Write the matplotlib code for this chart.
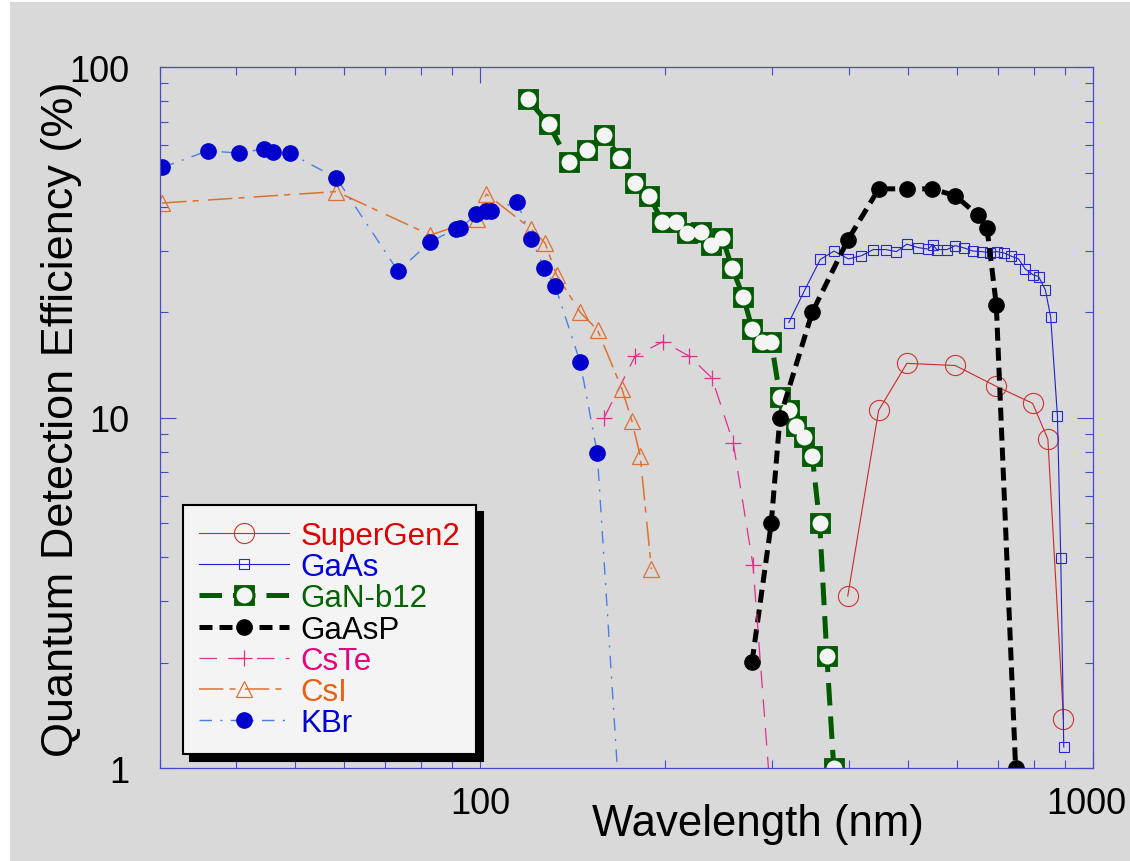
import numpy as np
import matplotlib
matplotlib.use("Agg")
import matplotlib.pyplot as plt
from matplotlib.patches import Rectangle
from matplotlib.ticker import FixedLocator, FixedFormatter, NullFormatter, LogLocator

plt.rcParams['font.family'] = ['Liberation Sans', 'DejaVu Sans']

# ---- data (wavelength nm, QE %) ----
sg2_wl = [398, 447, 497, 596, 695, 797, 844, 895]
sg2_qe = [3.1, 10.5, 14.3, 14.1, 12.3, 11.0, 8.7, 1.38]

gaas_wl = [319, 338, 359, 378, 399, 419, 438, 459, 478, 497, 518, 538, 548, 556,
           578, 596, 617, 637, 659, 678, 697, 717, 736, 756, 775, 798, 815, 836,
           853, 875, 886, 896]
gaas_qe = [18.7, 23.0, 28.3, 29.9, 28.4, 29.0, 30.2, 30.2, 29.8, 31.3, 30.6, 30.3, 31.2, 30.2,
           30.2, 31.0, 30.5, 29.9, 29.8, 29.6, 29.8, 29.5, 28.9, 28.4, 26.6, 25.6, 25.3, 23.2,
           19.4, 10.1, 3.97, 1.15]

gan_wl = [119.6, 129.4, 139.5, 149.2, 159.4, 169.3, 179.1, 188.8, 198.4, 208.7, 217.9,
          229.2, 238.5, 248.6, 258.0, 268.9, 278.1, 288.1, 298.6, 308.5, 319.2, 327.3,
          337.6, 348.3, 358.2, 368, 377.7]
gan_qe = [81.2, 68.9, 53.8, 58.1, 64.1, 55.0, 46.7, 42.9, 36.3, 36.3, 33.6,
          34.0, 31.1, 32.5, 26.7, 22.1, 17.9, 16.5, 16.5, 11.5, 10.5, 9.5,
          8.8, 7.8, 5.0, 2.09, 1.0]

gaasp_wl = [277.8, 298.6, 308.5, 348.3, 398.2, 447.3, 497.4, 546.3, 596.4, 648.3, 671.4, 695.4, 747.8]
gaasp_qe = [2.01, 5.0, 10.0, 20.0, 32.2, 45.0, 45.0, 45.0, 43.0, 37.9, 34.9, 21.0, 1.0]

cste_wl = [159.4, 179.1, 198.9, 219.3, 238.9, 258.8, 278.8, 295.5]
cste_qe = [10.0, 15.0, 16.5, 15.0, 13.0, 8.5, 3.8, 1.0]

csi_wl = [30.3, 58.3, 83.0, 99.0, 102.4, 121.2, 127.7, 133.3, 145.7, 155.5, 170.4, 176.9, 182.5, 190.4]
csi_qe = [41.0, 44.2, 33.2, 36.9, 43.5, 34.6, 31.5, 25.6, 20.0, 17.8, 12.1, 9.8, 7.8, 3.7]

kbr_wl = [30.3, 36.0, 40.4, 44.4, 46.0, 48.9, 58.3, 73.5, 83.0, 91.4, 92.8, 98.6,
          102.4, 104.3, 115.0, 121.2, 127.4, 132.7, 145.7, 155.3, 167.5]
kbr_qe = [51.8, 57.8, 56.9, 58.5, 57.2, 56.9, 48.3, 26.2, 31.8, 34.6, 34.7, 38.1,
          39.0, 38.8, 41.4, 32.4, 26.7, 23.7, 14.4, 7.94, 1.0]

labels = ["SuperGen2", "GaAs", "GaN-b12", "GaAsP", "CsTe", "CsI", "KBr"]
text_colors = ["#dd0000", "#0000dd", "#006400", "#000000", "#e6007e", "#e86010", "#0000cc"]

x_ticks = [100, 1000]
x_ticklabels = ["100", "1000"]
y_ticks = [1, 10, 100]
y_ticklabels = ["1", "10", "100"]

grey = "#d9d9d9"
axis_blue = "#4848cc"

fig = plt.figure(figsize=(11.3, 8.62), dpi=100, facecolor="white")
fig.patches.append(Rectangle((10 / 1130, 0), 1, 859 / 862, transform=fig.transFigure,
                             facecolor=grey, edgecolor="none", zorder=-10))
ax = fig.add_axes([159.5 / 1130, 1 - 769.3 / 862, (1093 - 159.5) / 1130, (769.3 - 68.3) / 862])
ax.set_facecolor(grey)
ax.set_xscale("log")
ax.set_yscale("log")
ax.set_xlim(30, 1000)
ax.set_ylim(1, 100)

h_sg2, = ax.plot(sg2_wl, sg2_qe, color="#cc2a2a", lw=0.8, marker="o", ms=14.5,
                 mfc="none", mec="#cc3333", mew=0.8)
h_gaas, = ax.plot(gaas_wl, gaas_qe, color="#2020c8", lw=0.8, marker="s", ms=7.5,
                  mfc="none", mec="#2828cc", mew=0.8)
h_gan, = ax.plot(gan_wl, gan_qe, color="#005a00", lw=3.6, dashes=(4.5, 2.2), marker="s",
                 ms=14.5, mfc="#005a00", mec="#005a00", mew=0.6)
h_gan2, = ax.plot(gan_wl, gan_qe, ls="none", marker="o", ms=11.5, mfc="#f4f4f4", mec="none")
h_gaasp, = ax.plot(gaasp_wl, gaasp_qe, color="black", lw=3.6, dashes=(2.6, 1.4), marker="o",
                   ms=11, mfc="black", mec="black")
h_cste, = ax.plot(cste_wl, cste_qe, color="#e0308c", lw=0.9, dashes=(14, 9), marker="+",
                  ms=12, mec="#e0308c", mew=0.9, markevery=list(range(len(cste_wl) - 1)))
h_csi, = ax.plot(csi_wl, csi_qe, color="#e07030", lw=1.1, dashes=(16, 4, 4, 6), marker="^",
                 ms=12, mfc="none", mec="#e07030", mew=0.9)
h_kbr, = ax.plot(kbr_wl, kbr_qe, color="#4a7ee6", lw=1.0, dashes=(9, 6, 1.5, 6), marker="o",
                 ms=11, mfc="#0000cc", mec="#0000cc", markevery=list(range(len(kbr_wl) - 1)))

# axes styling
for sp in ax.spines.values():
    sp.set_color(axis_blue)
    sp.set_linewidth(0.9)
ax.tick_params(which="both", direction="in", top=True, right=True, colors=axis_blue,
               labelcolor="black", labelsize=26)
ax.tick_params(which="major", length=11.5, width=0.8, pad=13)
ax.tick_params(which="minor", length=5.8, width=0.8)
ax.xaxis.set_major_locator(FixedLocator(x_ticks))
# the last label sits on the figure edge, it is drawn below with a small nudge
ax.xaxis.set_major_formatter(FixedFormatter(x_ticklabels[:-1] + [""]))
ax.xaxis.set_minor_locator(LogLocator(base=10, subs=np.arange(2, 10)))
ax.xaxis.set_minor_formatter(NullFormatter())
ax.yaxis.set_major_locator(FixedLocator(y_ticks))
ax.yaxis.set_major_formatter(FixedFormatter(y_ticklabels))
ax.yaxis.set_minor_locator(LogLocator(base=10, subs=np.arange(2, 10)))
ax.yaxis.set_minor_formatter(NullFormatter())
ax.tick_params(axis="y", which="major", pad=22)
ax.annotate(x_ticklabels[-1], xy=(x_ticks[-1], 0), xycoords=("data", "axes fraction"),
            xytext=(-4.5, -13), textcoords="offset points", ha="center", va="top",
            fontsize=26, annotation_clip=False)

ax.set_xlabel("Wavelength (nm)", fontsize=31.5)
ax.xaxis.label.set_va("baseline")
ax.xaxis.set_label_coords((758 - 159.5) / 933.5, (769.3 - 836) / 701.0)
ax.set_ylabel("Quantum Detection Efficiency (%)", fontsize=32.5)
ax.yaxis.label.set_va("center")
ax.yaxis.set_label_coords((62 - 159.5) / 933.5, 0.5)

leg = ax.legend([h_sg2, h_gaas, (h_gan, h_gan2), h_gaasp, h_cste, h_csi, h_kbr], labels,
                loc="lower left", bbox_to_anchor=(0.0252, 0.0204), borderaxespad=0,
                fontsize=22.5, handlelength=2.9, handletextpad=0.35, labelspacing=0.04,
                borderpad=0.5, fancybox=False, framealpha=1, facecolor="#f4f4f4",
                edgecolor="black",
                shadow={"ox": 5, "oy": -5, "facecolor": "black", "edgecolor": "black", "alpha": 1})
leg.get_frame().set_linewidth(1.5)
for t, c in zip(leg.get_texts(), text_colors):
    t.set_color(c)

fig.savefig("out.png", dpi=100, facecolor=fig.get_facecolor())
